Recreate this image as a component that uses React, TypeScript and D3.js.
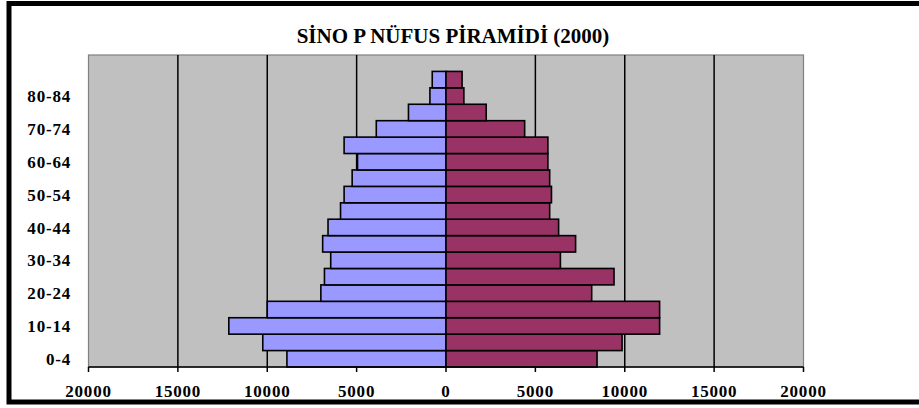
import { useMemo } from "react";
import * as d3 from "d3";

const W = 919;
const H = 408;
const PLOT = { left: 88.5, right: 803.5, top: 55, bottom: 367 };
const FONT = "'Liberation Serif', 'Times New Roman', serif";

// age groups, youngest first; the chart keeps one empty slot above the oldest group
const ageGroups = [
  "0-4", "5-9", "10-14", "15-19", "20-24", "25-29", "30-34", "35-39", "40-44",
  "45-49", "50-54", "55-59", "60-64", "65-69", "70-74", "75-79", "80-84", "85-89",
];
const categories = [...ageGroups, ""];

// erkek (left) and kadın (right)
const male = [
  8900, 10250, 12150, 10000, 7000, 6800, 6450, 6900, 6600,
  5900, 5700, 5250, 4950, 5700, 3900, 2100, 900, 770,
];
const female = [
  8450, 9850, 11950, 11950, 8150, 9400, 6400, 7250, 6300,
  5800, 5900, 5800, 5700, 5700, 4400, 2250, 1000, 900,
];

const xTicks = [-20000, -15000, -10000, -5000, 0, 5000, 10000, 15000, 20000];
const gridTicks = [-15000, -10000, -5000, 5000, 10000, 15000];

export default function App() {
  const xScale = useMemo(
    () => d3.scaleLinear().domain([-20000, 20000]).range([PLOT.left, PLOT.right]),
    []
  );
  const yScale = useMemo(
    () =>
      d3
        .scaleBand()
        .domain([...categories].reverse())
        .range([PLOT.top, PLOT.bottom])
        .padding(0),
    []
  );

  const x0 = xScale(0);
  const bw = yScale.bandwidth();

  const maleBars = ageGroups.map((g, i) => (
    <rect
      key={"m" + i}
      x={xScale(-male[i])}
      y={yScale(g)}
      width={x0 - xScale(-male[i])}
      height={bw}
      fill="#9999FF"
      stroke="#000"
      strokeWidth={1.6}
    />
  ));

  const femaleBars = ageGroups.map((g, i) => (
    <rect
      key={"f" + i}
      x={x0}
      y={yScale(g)}
      width={xScale(female[i]) - x0}
      height={bw}
      fill="#993366"
      stroke="#000"
      strokeWidth={1.6}
    />
  ));

  // only every other age group gets a label
  const yLabels = ageGroups
    .filter((_, i) => i % 2 === 0)
    .map((g) => (
      <text
        key={g}
        x={71}
        y={(yScale(g) as number) + bw / 2}
        dy="0.36em"
        textAnchor="end"
        fontSize={17}
        fontWeight="bold"
        letterSpacing={0.8}
        fontFamily={FONT}
      >
        {g}
      </text>
    ));

  return (
    <div style={{ position: "absolute", left: 0, top: 0 }}>
      <svg width={W} height={H} style={{ display: "block" }}>
        <rect width={W} height={H} fill="#fff" />
        {/* chart frame */}
        <rect x={9} y={3.5} width={W + 20} height={398.5} fill="none" stroke="#000" strokeWidth={5} />

        <text
          x={453}
          y={43}
          textAnchor="middle"
          fontSize={21}
          fontWeight="bold"
          fontFamily={FONT}
        >
          SİNO P NÜFUS PİRAMİDİ (2000)
        </text>

        {/* plot area */}
        <rect
          x={PLOT.left}
          y={PLOT.top}
          width={PLOT.right - PLOT.left}
          height={PLOT.bottom - PLOT.top}
          fill="#C0C0C0"
          stroke="#808080"
          strokeWidth={1.2}
        />
        {gridTicks.map((t) => (
          <line
            key={t}
            x1={xScale(t)}
            x2={xScale(t)}
            y1={PLOT.top}
            y2={PLOT.bottom}
            stroke="#000"
            strokeWidth={1.5}
          />
        ))}

        {maleBars}
        {femaleBars}

        {/* x axis */}
        <line x1={PLOT.left} x2={PLOT.right} y1={PLOT.bottom} y2={PLOT.bottom} stroke="#000" strokeWidth={1.5} />
        {xTicks.map((t) => (
          <g key={t}>
            <line
              x1={xScale(t)}
              x2={xScale(t)}
              y1={PLOT.bottom}
              y2={PLOT.bottom + 5}
              stroke="#000"
              strokeWidth={1.5}
            />
            <text
              x={xScale(t)}
              y={397}
              textAnchor="middle"
              fontSize={17}
              fontWeight="bold"
              letterSpacing={0.8}
              fontFamily={FONT}
            >
              {Math.abs(t)}
            </text>
          </g>
        ))}

        {yLabels}
      </svg>
    </div>
  );
}
